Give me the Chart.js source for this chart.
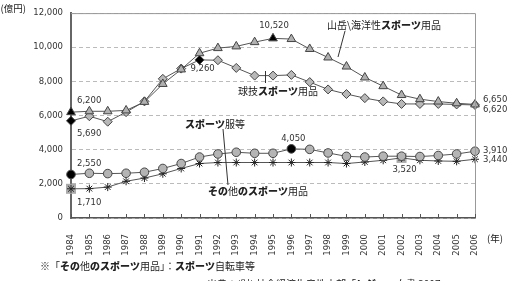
<!DOCTYPE html>
<html>
<head>
<meta charset="utf-8">
<script src="https://cdn.jsdelivr.net/npm/chart.js@4.4.1/dist/chart.umd.min.js"></script>
<style>
  html, body { margin: 0; padding: 0; background: #fff; }
  #wrap { width: 515px; height: 281px; position: relative; }
</style>
</head>
<body>
<div id="wrap"><canvas id="chart" width="515" height="281"></canvas></div>
<script>
const years = ['1984', '1985', '1986', '1987', '1988', '1989', '1990', '1991', '1992', '1993', '1994', '1995',
    '1996', '1997', '1998', '1999', '2000', '2001', '2002', '2003', '2004', '2005', '2006'];
const mountain = [6200, 6250, 6250, 6300, 6800, 7850, 8700, 9650, 9950, 10050, 10300, 10520,
    10480, 9900, 9400, 8870, 8230, 7720, 7200, 6960, 6820, 6720, 6650];
const ball = [5690, 5960, 5640, 6200, 6830, 8150, 8750, 9260, 9240, 8790, 8340, 8340,
    8380, 7960, 7530, 7260, 7020, 6830, 6680, 6680, 6680, 6650, 6620];
const clothes = [2550, 2620, 2600, 2620, 2680, 2900, 3190, 3570, 3750, 3850, 3790, 3790,
    4050, 4020, 3810, 3610, 3570, 3620, 3620, 3600, 3660, 3750, 3910];
const other = [1710, 1720, 1810, 2150, 2340, 2590, 2900, 3190, 3250, 3250, 3250, 3250,
    3250, 3250, 3250, 3190, 3280, 3380, 3520, 3380, 3340, 3320, 3440];
const yTicks = [0, 2000, 4000, 6000, 8000, 10000, 12000];

const fmt = v => v.toLocaleString('en-US');
const NUM_FONT = '8.5px "DejaVu Sans"';
const JP = '"Noto Sans CJK JP"';

// which points get the black marker
function markers(values, hi, color) {
    return values.map((v, i) => hi.indexOf(i) >= 0 ? '#000' : color);
}

// draw text made of normal / bold parts
function richText(ctx, parts, x, y) {
    ctx.textBaseline = 'middle';
    ctx.textAlign = 'left';
    parts.forEach(function (p) {
        ctx.font = (p[1] ? '900 ' : '400 ') + '10px ' + JP;
        ctx.fillText(p[0], x, y);
        x += ctx.measureText(p[0]).width;
    });
}

const pointLabels = [
    // dataset, index, dx, dy, align
    [0, 0, 6, -11, 'left'],
    [1, 0, 6, 13, 'left'],
    [2, 0, 6, -11, 'left'],
    [3, 0, 6, 14, 'left'],
    [0, 11, 1, -13, 'center'],
    [1, 7, 3, 9, 'center'],
    [2, 12, 2, -10, 'center'],
    [3, 18, 3, 12, 'center'],
    [0, 22, 8, -5, 'left'],
    [1, 22, 8, 5, 'left'],
    [2, 22, 8, 0, 'left'],
    [3, 22, 8, 1, 'left']
];

const extras = {
    id: 'extras',
    beforeDatasetsDraw(chart) {
        const ctx = chart.ctx;
        const meta = chart.getDatasetMeta(3);
        ctx.save();
        ctx.fillStyle = '#aaa';
        [0, 18].forEach(function (i) {
            const p = meta.data[i];
            ctx.fillRect(p.x - 5, p.y - 5, 10, 10);
        });
        ctx.restore();
    },
    afterDraw(chart) {
        const ctx = chart.ctx;
        const a = chart.chartArea;
        const xs = chart.scales.x;
        ctx.save();

        // frame top / right
        ctx.strokeStyle = '#999';
        ctx.lineWidth = 1;
        ctx.beginPath();
        ctx.moveTo(a.left, a.top + 0.5);
        ctx.lineTo(a.right + 0.5, a.top + 0.5);
        ctx.lineTo(a.right + 0.5, a.bottom);
        ctx.stroke();

        // inner tick marks on x axis
        ctx.strokeStyle = '#555';
        ctx.beginPath();
        years.forEach(function (y, i) {
            const x = Math.round(xs.getPixelForTick(i)) + 0.5;
            ctx.moveTo(x, a.bottom);
            ctx.lineTo(x, a.bottom - 4);
        });
        ctx.stroke();

        // value labels
        const sets = [mountain, ball, clothes, other];
        ctx.fillStyle = '#333';
        ctx.font = NUM_FONT;
        ctx.textBaseline = 'middle';
        pointLabels.forEach(function (l) {
            const p = chart.getDatasetMeta(l[0]).data[l[1]];
            ctx.textAlign = l[4];
            ctx.fillText(fmt(sets[l[0]][l[1]]), p.x + l[2], p.y + l[3]);
        });

        // axis titles
        ctx.fillStyle = '#222';
        ctx.font = '9.5px ' + JP;
        ctx.textAlign = 'right';
        ctx.fillText('(億円)', 26, 8);
        ctx.textAlign = 'left';
        ctx.fillText('(年)', 487, 238);

        // leader lines
        ctx.strokeStyle = '#333';
        ctx.beginPath();
        ctx.moveTo(345, 31); ctx.lineTo(338, 57);
        ctx.moveTo(265.5, 71); ctx.lineTo(265.5, 83);
        ctx.moveTo(223, 129); ctx.lineTo(228, 185);
        ctx.stroke();

        // series names
        ctx.fillStyle = '#222';
        richText(ctx, [['山岳\\海洋性', 0], ['スポーツ', 1], ['用品', 0]], 327, 25);
        richText(ctx, [['球技', 0], ['スポーツ', 1], ['用品', 0]], 238, 91);
        richText(ctx, [['スポーツ', 1], ['服等', 0]], 185, 124);
        richText(ctx, [['その', 1], ['他', 0], ['のスポーツ', 1], ['用品', 0]], 208, 191);

        // notes
        richText(ctx, [['※「', 0], ['その', 1], ['他', 0], ['のスポーツ', 1], ['用品」：', 0],
            ['スポーツ', 1], ['自転車等', 0]], 40, 266);
        richText(ctx, [['出典：(財) 社会経済生産性本部「', 0], ['レジャー', 1], ['白書 2007」', 0]], 207, 284);

        ctx.restore();
    }
};

const line = {borderColor: '#555', borderWidth: 1, pointBorderColor: '#444', pointBorderWidth: 1, tension: 0};

new Chart(document.getElementById('chart').getContext('2d'), {
    type: 'line',
    data: {
        labels: years,
        datasets: [
            Object.assign({
                label: '山岳\\海洋性スポーツ用品',
                data: mountain,
                pointStyle: 'triangle',
                pointRadius: 5,
                pointBackgroundColor: markers(mountain, [0, 11], '#b0b0b0')
            }, line),
            Object.assign({
                label: '球技スポーツ用品',
                data: ball,
                pointStyle: 'rectRot',
                pointRadius: 4.5,
                pointBackgroundColor: markers(ball, [0, 7], '#b8b8b8')
            }, line),
            Object.assign({
                label: 'スポーツ服等',
                data: clothes,
                pointStyle: 'circle',
                pointRadius: 4.3,
                pointBackgroundColor: markers(clothes, [0, 12], '#b4b4b4')
            }, line),
            Object.assign({
                label: 'その他のスポーツ用品',
                data: other,
                pointStyle: 'star',
                pointRadius: 4,
                pointBackgroundColor: '#222'
            }, line, {pointBorderColor: '#222'})
        ]
    },
    options: {
        responsive: false,
        animation: false,
        devicePixelRatio: 1,
        layout: {padding: {left: 0, right: 40, top: 6, bottom: 0}},
        plugins: {
            legend: {display: false},
            tooltip: {enabled: false}
        },
        scales: {
            x: {
                offset: false,
                grid: {display: false},
                border: {display: true, color: '#555', width: 1.5},
                ticks: {
                    autoSkip: false,
                    minRotation: 90,
                    maxRotation: 90,
                    padding: 8,
                    color: '#333',
                    font: {family: 'DejaVu Sans', size: 8.5}
                },
                afterFit: function (s) { s.height = 63; }
            },
            y: {
                min: yTicks[0],
                max: yTicks[yTicks.length - 1],
                afterBuildTicks: function (s) { s.ticks = yTicks.map(v => ({value: v})); },
                grid: {color: '#bbb', lineWidth: 1, drawTicks: false},
                border: {display: true, color: '#666', width: 2, dash: [4, 3]},
                ticks: {
                    padding: 8,
                    color: '#333',
                    font: {family: 'DejaVu Sans', size: 8.5},
                    callback: v => fmt(v)
                },
                afterFit: function (s) { s.width = 71; }
            }
        }
    },
    plugins: [extras]
});
</script>
</body>
</html>
